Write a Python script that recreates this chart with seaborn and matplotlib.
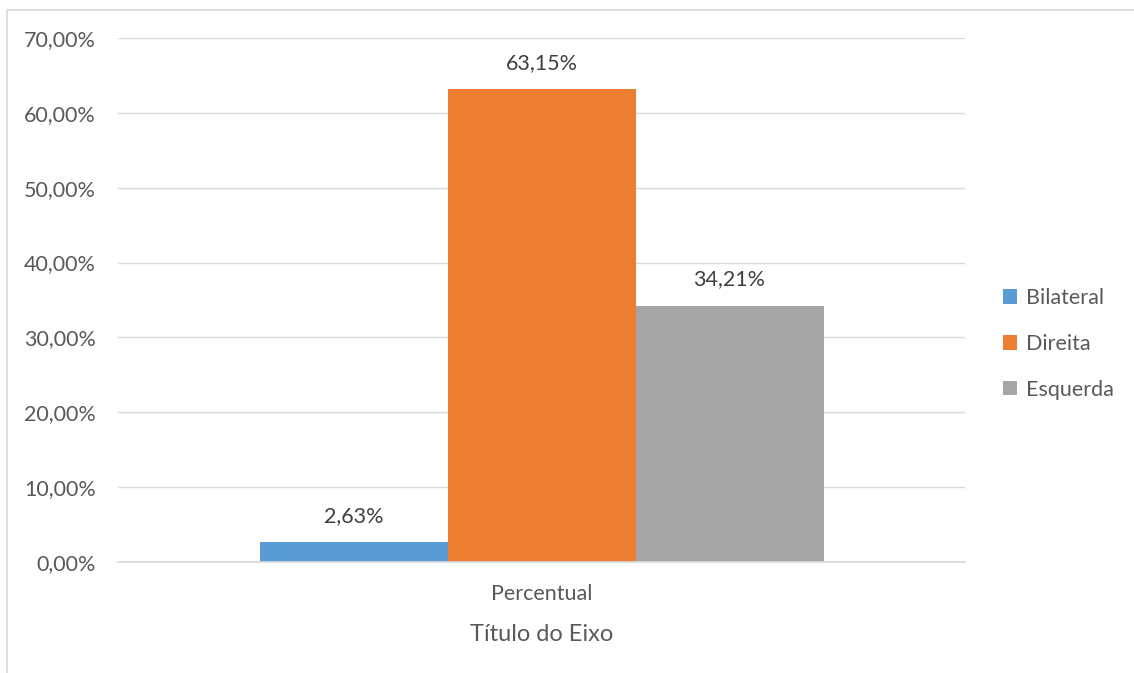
import matplotlib
matplotlib.use("Agg")
import matplotlib.pyplot as plt
import seaborn as sns
import pandas as pd
from matplotlib.patches import Rectangle

categories = ["Bilateral", "Direita", "Esquerda"]
values = [2.63, 63.15, 34.21]
value_labels = ["2,63%", "63,15%", "34,21%"]
x_label = "Percentual"
y_ticks = [0, 10, 20, 30, 40, 50, 60, 70]
y_tick_labels = ["0,00%", "10,00%", "20,00%", "30,00%", "40,00%", "50,00%", "60,00%", "70,00%"]
colors = ["#5B9BD5", "#ED7D31", "#A5A5A5"]

sns.set_theme(style="white")
plt.rcParams['font.family'] = ['Lato', 'DejaVu Sans']

df = pd.DataFrame({"x": [x_label] * 3, "Serie": categories, "valor": values})

fig = plt.figure(figsize=(11.34, 6.73), dpi=100)
ax = fig.add_axes([118/1134, 1 - 562/673, (965-118)/1134, (562-38)/673])

sns.barplot(data=df, x="x", y="valor", hue="Serie", hue_order=categories,
            palette=colors, width=564/847, saturation=1, ax=ax, legend=True,
            linewidth=0)

ax.set_ylim(0, 70)
ax.set_xlim(-0.5, 0.5)
ax.set_yticks(y_ticks)
ax.set_yticklabels(y_tick_labels, fontsize=15.5, color="#595959")
ax.tick_params(axis="x", labelsize=15.5, labelcolor="#595959", pad=16, length=0)
ax.tick_params(axis="y", length=0, pad=16)
ax.yaxis.grid(True, color="#D9D9D9", linewidth=1)
ax.set_axisbelow(True)
for s in ["top", "right", "left"]:
    ax.spines[s].set_visible(False)
ax.spines["bottom"].set_color("#D9D9D9")
ax.set_ylabel("")
ax.set_xlabel("Título do Eixo", fontsize=17, color="#595959", labelpad=14)

for cont, lab in zip(ax.containers, value_labels):
    ax.bar_label(cont, labels=[lab], padding=12, fontsize=15.5, color="#404040")

ax.legend(loc="center left", bbox_to_anchor=(1003/1134, 1 - 344/673),
          bbox_transform=fig.transFigure, frameon=False, borderpad=0,
          borderaxespad=0, fontsize=15.5, labelcolor="#595959",
          handlelength=0.65, handleheight=0.65, labelspacing=1.2,
          handletextpad=0.4)

fig.patches.append(Rectangle((7/1134, -0.1), 1.2, 1 - 10/673 + 0.1,
                             transform=fig.transFigure, fill=False,
                             edgecolor="#D9D9D9", linewidth=1.2))

fig.savefig("out.png", dpi=100)
